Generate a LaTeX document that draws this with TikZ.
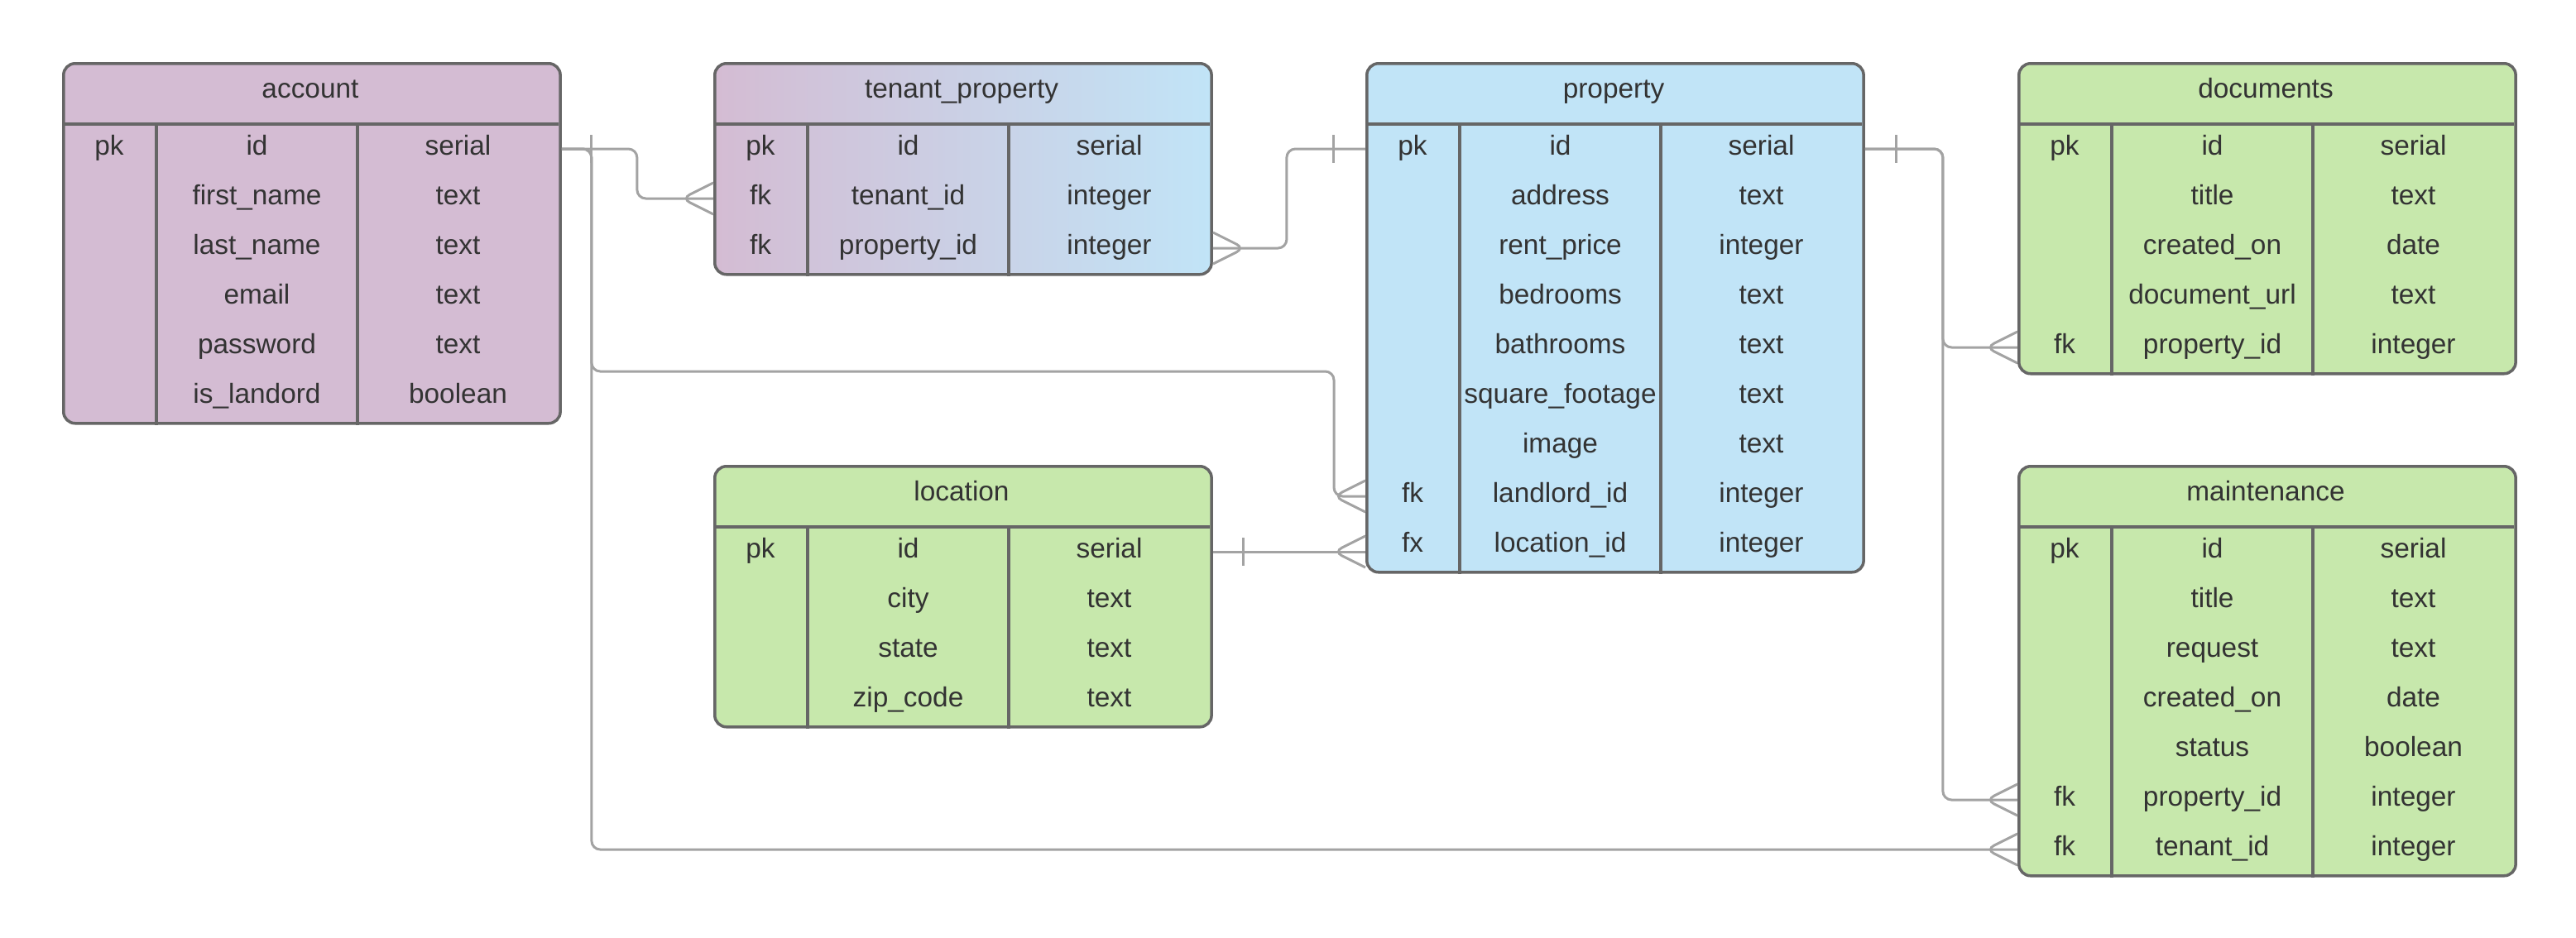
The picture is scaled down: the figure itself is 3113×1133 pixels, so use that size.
\documentclass[tikz,border=0pt]{standalone}
\usepackage{fontspec}
\setmainfont{Liberation Sans}
\usetikzlibrary{calc}
\definecolor{purp}{HTML}{D4BCD3}
\definecolor{blu}{HTML}{C1E4F7}
\definecolor{grn}{HTML}{C7E8AC}
\definecolor{bordc}{HTML}{666666}
\definecolor{connc}{HTML}{A3A3A3}
\definecolor{txtc}{HTML}{333333}
\tikzset{
  tablebox/.style={draw=bordc, line width=1pt, rounded corners=4pt, inner sep=0pt, minimum width=6cm},
  tableline/.style={draw=bordc, line width=1pt},
  cell/.style={inner sep=0pt, text=txtc, font=\fontsize{9.5}{11}\selectfont},
  conn/.style={draw=connc, line width=0.85pt, rounded corners=3pt},
}
\newcommand{\ertable}[7]{%
  \pgfmathsetlengthmacro{\tabhd}{(75+60*#4)*0.01cm}%
  \node[tablebox, #5, minimum height=\tabhd, anchor=north west] (#1) at (#2,#3) {};
  \node[cell, anchor=base] (#1-title) at (#2+300,#3+43.5) {#6};
  \draw[tableline] (#2,#3+75) -- (#2+600,#3+75);
  \draw[tableline] (#2+114,#3+75) -- (#1.south west -| {#2+114,0});
  \draw[tableline] (#2+357,#3+75) -- (#1.south west -| {#2+357,0});
  \foreach \ca/\cb/\cc [count=\i] in {#7} {
    \pgfmathsetmacro{\ry}{#3+75+60*\i-30}
    \coordinate (#1-r\i) at (#2+300,\ry);
    \node[cell, anchor=base] (#1-a\i) at (#2+57,\ry+7) {\ca};
    \node[cell, anchor=base] (#1-b\i) at (#2+235.5,\ry+7) {\cb};
    \node[cell, anchor=base] (#1-c\i) at (#2+478.5,\ry+7) {\cc};
  }
}
\newcommand{\crowW}[1]{\draw[conn] ($(#1)+(0,-19)$) -- ($(#1)+(-38,0)$) -- ($(#1)+(0,19)$);}
\newcommand{\crowE}[1]{\draw[conn] ($(#1)+(0,-19)$) -- ($(#1)+(38,0)$) -- ($(#1)+(0,19)$);}
\newcommand{\onebar}[2]{\draw[conn] ($(#1)+(#2,-17)$) -- ($(#1)+(#2,17)$);}
\begin{document}
\begin{tikzpicture}[x=0.01cm,y=-0.01cm]
\useasboundingbox[fill=white] (0,0) rectangle (3113,1133);

\ertable{acc}{75}{75}{6}{fill=purp}{account}{pk/id/serial, /first\_name/text, /last\_name/text, /email/text, /password/text, /is\_landord/boolean}
\ertable{tp}{862}{75}{3}{left color=purp, right color=blu}{tenant\_property}{pk/id/serial, fk/tenant\_id/integer, fk/property\_id/integer}
\ertable{prop}{1650}{75}{9}{fill=blu}{property}{pk/id/serial, /address/text, /rent\_price/integer, /bedrooms/text, /bathrooms/text, /square\_footage/text, /image/text, fk/landlord\_id/integer, fx/location\_id/integer}
\ertable{docs}{2438}{75}{5}{fill=grn}{documents}{pk/id/serial, /title/text, /created\_on/date, /document\_url/text, fk/property\_id/integer}
\ertable{loc}{862}{562}{4}{fill=grn}{location}{pk/id/serial, /city/text, /state/text, /zip\_code/text}
\ertable{mnt}{2438}{562}{7}{fill=grn}{maintenance}{pk/id/serial, /title/text, /request/text, /created\_on/date, /status/boolean, fk/property\_id/integer, fk/tenant\_id/integer}

% account.id -> tenant_property.tenant_id
\draw[conn] (acc.east|-acc-r1) -- ++(91,0) |- (tp.west|-tp-r2);
\crowW{tp.west|-tp-r2}
% account.id -> property.landlord_id
\draw[conn] (acc.east|-acc-r1) -- ++(36,0) -- ++(0,269) -| ($(prop.west|-prop-r8)+(-38,0)$) -- (prop.west|-prop-r8);
\crowW{prop.west|-prop-r8}
% account.id -> maintenance.tenant_id
\draw[conn] (acc.east|-acc-r1) -- ++(36,0) |- (mnt.west|-mnt-r7);
\crowW{mnt.west|-mnt-r7}
\onebar{acc.east|-acc-r1}{36}
% tenant_property.property_id -> property.id
\draw[conn] (tp.east|-tp-r3) -- ++(89,0) |- (prop.west|-prop-r1);
\crowE{tp.east|-tp-r3}
\onebar{prop.west|-prop-r1}{-39}
% location.id -> property.location_id
\draw[conn] (loc.east|-loc-r1) -- (prop.west|-loc-r1);
\crowW{prop.west|-loc-r1}
\onebar{loc.east|-loc-r1}{37}
% property.id -> documents.property_id
\draw[conn] (prop.east|-prop-r1) -- ++(94,0) |- (docs.west|-docs-r5);
\crowW{docs.west|-docs-r5}
% property.id -> maintenance.property_id
\draw[conn] (prop.east|-prop-r1) -- ++(94,0) |- (mnt.west|-mnt-r6);
\crowW{mnt.west|-mnt-r6}
\onebar{prop.east|-prop-r1}{38}
\end{tikzpicture}
\end{document}
